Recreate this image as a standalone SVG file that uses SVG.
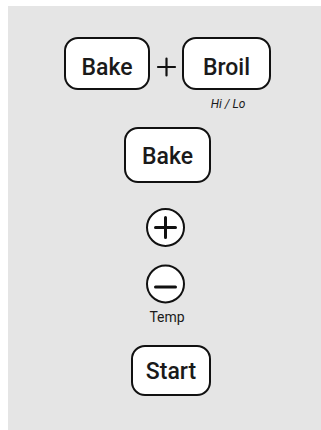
<svg xmlns="http://www.w3.org/2000/svg" width="321" height="430" viewBox="0 0 321 430">
<style>
.key{fill:#fff;stroke:#111;stroke-width:2}
.ring{fill:#fff;stroke:#111;stroke-width:2}
.sym{stroke:#111;stroke-width:3;stroke-linecap:round;fill:none}
.lbl{font-family:Roboto,"Liberation Sans",Arial,sans-serif;font-weight:500;font-size:23px;fill:#1a1a1a;text-anchor:middle}
.small{font-family:Roboto,"Liberation Sans",Arial,sans-serif;font-size:12px;fill:#1a1a1a;text-anchor:middle}
</style>
<rect x="8" y="6" width="313" height="424" fill="#e5e5e5"/>
<g id="bake1">
<rect class="key" x="65" y="38" width="84" height="51" rx="13"/>
<text class="lbl" x="107" y="75">Bake</text>
</g>
<g id="plus-join">
<path class="sym" d="M158 67H175M166.5 58.5V75.5" style="stroke-width:2.2"/>
</g>
<g id="broil">
<rect class="key" x="183" y="38" width="87" height="51" rx="13"/>
<text class="lbl" x="226.5" y="75">Broil</text>
<text class="small" x="228" y="108" style="font-style:italic;font-size:12px">Hi / Lo</text>
</g>
<g id="bake2">
<rect class="key" x="125" y="128" width="85" height="54" rx="13"/>
<text class="lbl" x="167.5" y="164">Bake</text>
</g>
<g id="plus">
<circle class="ring" cx="165.5" cy="227.5" r="18.5"/>
<path class="sym" d="M155.5 227.5H175.5M165.5 217.5V237.5"/>
</g>
<g id="minus">
<circle class="ring" cx="165.5" cy="284" r="18.5"/>
<path class="sym" d="M155.5 287H175.5"/>
<text class="small" x="167" y="322" style="font-size:14px">Temp</text>
</g>
<g id="start">
<rect class="key" x="132" y="346" width="78" height="49" rx="13"/>
<text class="lbl" x="171" y="379">Start</text>
</g>
</svg>
